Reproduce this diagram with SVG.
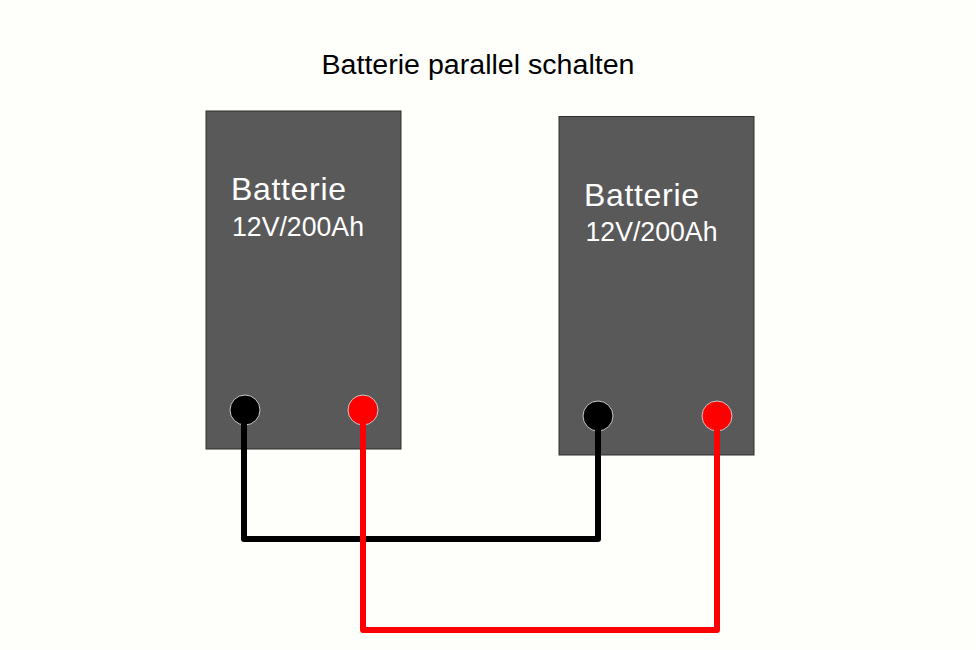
<svg xmlns="http://www.w3.org/2000/svg" width="976" height="650" viewBox="0 0 976 650">
<style>
.bat{fill:#595959;stroke:#2e2e2e;stroke-width:1}
.t1{font-family:"Liberation Sans",Arial,sans-serif;fill:#ffffff;font-size:32px}
.t2{font-family:"Liberation Sans",Arial,sans-serif;fill:#ffffff;font-size:28px}
.neg{fill:#000000;stroke:#c8c8c8;stroke-width:1}
.pos{fill:#ff0000;stroke:#c8c8c8;stroke-width:1}
.wire{fill:none;stroke-width:6;stroke-linejoin:round;stroke-linecap:round}
</style>
<rect width="976" height="650" fill="#fefefb"/>
<text x="478" y="74" text-anchor="middle" font-family="Liberation Sans, Arial, sans-serif" font-size="27" fill="#000" textLength="313" lengthAdjust="spacingAndGlyphs">Batterie parallel schalten</text>
<g id="battery1">
<rect class="bat" x="206" y="111" width="195" height="338"/>
<text class="t1" x="231" y="200" textLength="115">Batterie</text>
<text class="t2" x="232" y="236" textLength="132" lengthAdjust="spacingAndGlyphs">12V/200Ah</text>
<circle class="neg" cx="245" cy="410" r="15"/>
<circle class="pos" cx="363" cy="410" r="15"/>
</g>
<g id="battery2">
<rect class="bat" x="559" y="116.5" width="195" height="338.5"/>
<text class="t1" x="584" y="206" textLength="115">Batterie</text>
<text class="t2" x="585.5" y="241" textLength="132" lengthAdjust="spacingAndGlyphs">12V/200Ah</text>
<circle class="neg" cx="598" cy="416" r="15"/>
<circle class="pos" cx="717" cy="416" r="15"/>
</g>
<g id="connectors">
<path class="wire" stroke="#000000" d="M244 410 V539 H598 V416"/>
<path class="wire" stroke="#ff0000" d="M363 410 V630 H717 V416"/>
</g>
</svg>
